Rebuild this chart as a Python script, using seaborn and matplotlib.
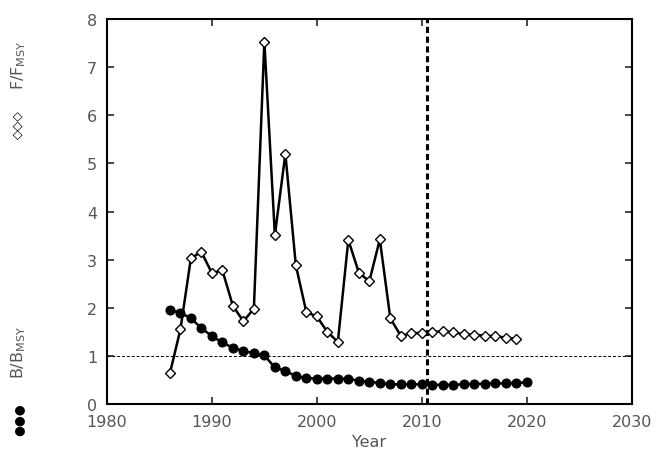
import matplotlib
matplotlib.use("Agg")
import matplotlib.pyplot as plt
import seaborn as sns
import pandas as pd

f_years = list(range(1986, 2020))
f_values = [0.64, 1.55, 3.03, 3.16, 2.72, 2.78, 2.04, 1.72, 1.98, 7.53,
            3.51, 5.20, 2.88, 1.91, 1.82, 1.50, 1.29, 3.41, 2.73, 2.55,
            3.42, 1.78, 1.42, 1.47, 1.48, 1.50, 1.51, 1.49, 1.45, 1.44,
            1.42, 1.41, 1.38, 1.36]
b_years = list(range(1986, 2021))
b_values = [1.95, 1.90, 1.78, 1.58, 1.41, 1.28, 1.17, 1.10, 1.06, 1.01,
            0.76, 0.69, 0.58, 0.54, 0.53, 0.53, 0.53, 0.53, 0.48, 0.46,
            0.44, 0.41, 0.41, 0.41, 0.41, 0.40, 0.40, 0.40, 0.41, 0.42,
            0.42, 0.43, 0.43, 0.44, 0.45]
x_ticks = [1980, 1990, 2000, 2010, 2020, 2030]
y_ticks = [0, 1, 2, 3, 4, 5, 6, 7, 8]
ref_year = 2010.5

sns.set_style("ticks")
plt.rcParams['font.family'] = ['DejaVu Sans']

fig = plt.figure(figsize=(6.56, 4.64), dpi=100)
ax = fig.add_axes([0.163, 0.127, 0.8, 0.83])

dfb = pd.DataFrame({"Year": b_years, "B": b_values})
dff = pd.DataFrame({"Year": f_years, "F": f_values})

sns.lineplot(data=dfb, x="Year", y="B", ax=ax, color="black", lw=1.8,
             marker="o", markersize=6.5, markerfacecolor="black",
             markeredgecolor="black")
sns.lineplot(data=dff, x="Year", y="F", ax=ax, color="black", lw=1.8,
             marker="D", markersize=5, markerfacecolor="white",
             markeredgecolor="black", markeredgewidth=1.0)

ax.axhline(1, color="black", lw=0.7, ls=(0, (3, 2)))
ax.axvline(ref_year, color="black", lw=2.2, ls=(0, (2, 1.2)))

ax.set_xlim(1980, 2030)
ax.set_ylim(0, 8)
ax.set_xticks(x_ticks)
ax.set_yticks(y_ticks)
ax.tick_params(direction="in", top=True, right=True, length=5, width=1.2,
               labelsize=11.5, labelcolor="#555555", pad=7)
for s in ax.spines.values():
    s.set_linewidth(1.5)
    s.set_color("black")
ax.set_xlabel("Year", fontsize=11.5, color="#555555", labelpad=4)
ax.set_ylabel("")

# rotated series labels on the left
fig.text(0.028, 1 - 65 / 464, "F/F$_{\\mathregular{MSY}}$", rotation=90,
         ha="center", va="center", fontsize=11.5, color="#555555")
fig.text(0.028, 1 - 125 / 464, "\u25c7\u25c7\u25c7", rotation=90,
         ha="center", va="center", fontsize=9, fontweight="bold", color="black")
fig.text(0.028, 1 - 352 / 464, "B/B$_{\\mathregular{MSY}}$", rotation=90,
         ha="center", va="center", fontsize=11.5, color="#555555")
fig.text(0.028, 1 - 420 / 464, "\u25cf\u25cf\u25cf", rotation=90,
         ha="center", va="center", fontsize=9, color="black")

fig.savefig("out.png", dpi=100)
